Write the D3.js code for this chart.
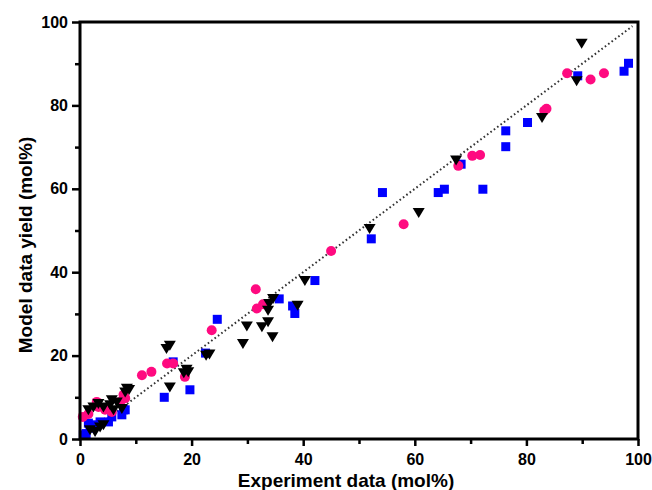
<!DOCTYPE html>
<html>
<head>
<meta charset="utf-8">
<script src="https://cdn.jsdelivr.net/npm/d3@7"></script>
<style>
  html, body { margin: 0; padding: 0; background: #fff; }
  svg { display: block; }
  text { font-family: Arial, "Liberation Sans", sans-serif; font-weight: bold; fill: #000; }
</style>
</head>
<body>
<svg id="chart" width="652" height="490"></svg>
<script>
// ---- data (experiment %, model %) ----
const squaresBlue = [
  [0.6,1.0],[1.1,1.3],[1.5,3.8],[1.8,2.6],[2.7,3.4],[3.6,4.1],[5.1,4.1],[5.7,5.3],[7.5,5.8],[7.8,7.0],[8.1,7.0],
  [15.1,10.0],[16.7,18.5],[19.7,11.8],[22.5,20.6],[24.6,28.7],[35.7,33.6],[38.1,31.9],[38.5,30.1],[42.1,38.0],
  [52.2,48.0],[54.2,59.1],[64.2,59.1],[65.3,59.9],[68.3,65.9],[72.2,59.9],[76.3,73.9],[76.3,70.1],[80.2,75.9],
  [89.2,87.1],[97.5,88.2],[98.3,90.1]
];
const circlesPink = [
  [0.5,5.3],[1.5,6.0],[3.0,8.9],[3.3,7.7],[4.5,7.0],[5.7,6.5],[7.2,8.9],[7.8,10.6],[8.1,9.8],[11.1,15.3],[12.8,16.1],
  [15.6,18.1],[16.7,18.1],[18.8,14.9],[23.6,26.1],[31.5,35.9],[31.7,31.3],[32.8,32.3],[45.0,45.1],[58.0,51.5],
  [67.8,65.5],[70.3,67.9],[71.7,68.1],[83.2,78.7],[83.6,79.2],[87.3,87.7],[91.5,86.2],[93.9,87.7]
];
const trianglesBlack = [
  [1.5,7.0],[2.4,7.7],[3.3,8.5],[4.2,7.7],[5.4,8.2],[6.6,8.9],[7.5,7.3],[8.1,11.3],[8.8,11.9],[8.4,12.2],
  [1.8,2.2],[2.7,1.8],[3.6,2.9],[4.2,3.4],[5.7,9.4],[6.0,7.0],
  [15.5,21.7],[16.1,22.5],[16.1,12.5],[18.6,15.9],[19.1,16.7],[19.4,16.1],[22.6,20.1],[23.2,20.4],[29.2,22.9],
  [29.9,27.1],[32.6,26.9],[33.7,28.1],[33.7,30.9],[33.9,32.5],[34.5,24.5],[34.6,33.7],[39.0,32.1],[40.3,38.0],
  [51.9,50.5],[60.7,54.3],[67.4,66.9],[82.8,77.1],[89.0,85.9],[89.9,94.9]
];
const majorTicks = [0, 20, 40, 60, 80, 100];
const minorTicks = [10, 30, 50, 70, 90];
const parityLine = [[0, 0], [99, 99]];
const xTitle = "Experiment data (mol%)";
const yTitle = "Model data yield (mol%)";

// ---- layout ----
const svg = d3.select("#chart");
const L = 80, R = 638, T = 22, B = 439;
const x = d3.scaleLinear().domain([0, 100]).range([L, R]);
const y = d3.scaleLinear().domain([0, 100]).range([B, T]);

// parity dotted line
svg.append("path")
  .attr("d", d3.line().x(d => x(d[0])).y(d => y(d[1]))(parityLine))
  .attr("stroke", "#333").attr("stroke-width", 2)
  .attr("stroke-dasharray", "1.6,2.6").attr("fill", "none");

// markers
svg.append("g").selectAll("rect").data(squaresBlue).join("rect")
  .attr("x", d => x(d[0]) - 4.5).attr("y", d => y(d[1]) - 4.5)
  .attr("width", 9).attr("height", 9).attr("fill", "#0000ff");

svg.append("g").selectAll("circle").data(circlesPink).join("circle")
  .attr("cx", d => x(d[0])).attr("cy", d => y(d[1])).attr("r", 5)
  .attr("fill", "#ff0a80");

svg.append("g").selectAll("path").data(trianglesBlack).join("path")
  .attr("transform", d => `translate(${x(d[0])},${y(d[1])})`)
  .attr("d", "M-6,-4.5L6,-4.5L0,5.5Z").attr("fill", "#000");

// axes
const xAxis = d3.axisBottom(x).tickValues(majorTicks).tickSize(7).tickPadding(8);
const xMinor = d3.axisBottom(x).tickValues(minorTicks).tickSize(5).tickFormat("");
const yAxis = d3.axisLeft(y).tickValues(majorTicks).tickSize(8).tickPadding(4);
const yMinor = d3.axisLeft(y).tickValues(minorTicks).tickSize(5).tickFormat("");

function styleAxis(g) {
  g.select(".domain").remove();
  g.selectAll("line").attr("stroke", "#000").attr("stroke-width", 2.5);
  g.selectAll("text").style("font-size", "16px").style("font-weight", "bold")
    .style("font-family", "Arial, 'Liberation Sans', sans-serif").attr("fill", "#000");
}
svg.append("g").attr("transform", `translate(0,${B})`).call(xAxis).call(styleAxis);
svg.append("g").attr("transform", `translate(0,${B})`).call(xMinor).call(styleAxis);
svg.append("g").attr("transform", `translate(${L},0)`).call(yAxis).call(styleAxis);
svg.append("g").attr("transform", `translate(${L},0)`).call(yMinor).call(styleAxis);

// frame
svg.append("rect").attr("x", L).attr("y", T).attr("width", R - L).attr("height", B - T)
  .attr("fill", "none").attr("stroke", "#000").attr("stroke-width", 3);

// titles
svg.append("text").attr("x", 346).attr("y", 487).attr("text-anchor", "middle")
  .style("font-size", "19px").text(xTitle);
svg.append("text").attr("transform", `translate(32,245) rotate(-90)`)
  .attr("text-anchor", "middle").style("font-size", "19px").text(yTitle);
</script>
</body>
</html>
